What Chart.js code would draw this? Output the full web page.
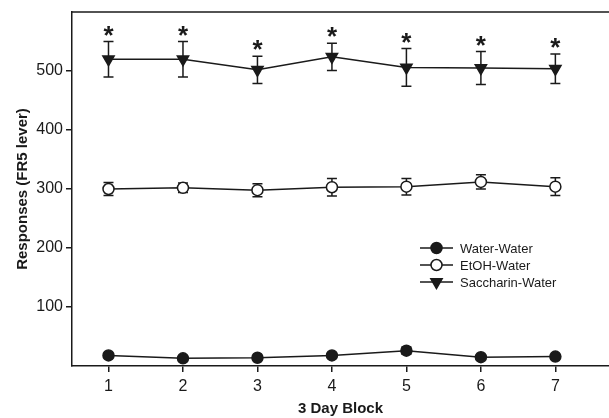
<!DOCTYPE html>
<html>
<head>
<meta charset="utf-8">
<script src="https://cdn.jsdelivr.net/npm/chart.js@4/dist/chart.umd.min.js"></script>
<style>
  html, body { margin: 0; padding: 0; background: #fff; overflow: hidden; }
  canvas { display: block; }
</style>
</head>
<body>
<canvas id="chart" width="609" height="418"></canvas>
<script>
const blocks = [1, 2, 3, 4, 5, 6, 7];
const yTicks = [100, 200, 300, 400, 500];

const waterMean = [18, 13, 14, 18, 26, 15, 16];
const waterErr = [3, 2, 2, 3, 6, 2, 2];
const etohMean = [300, 302, 298, 303, 304, 312, 304];
const etohErr = [11, 8, 11, 15, 14, 12, 15];
const saccMean = [520, 520, 502, 524, 506, 505, 504];
const saccErr = [30, 30, 23, 23, 32, 28, 25];
const saccSig = [true, true, true, true, true, true, true];

const ink = '#1a1a1a';
const font = 'Liberation Sans, Arial, sans-serif';

function pts(means) {
    return blocks.map((b, i) => ({ x: b, y: means[i] }));
}

const errs = [waterErr, etohErr, saccErr];

const errorBars = {
    id: 'errorBars',
    beforeDatasetsDraw(chart) {
        const ctx = chart.ctx;
        const xs = chart.scales.x, ys = chart.scales.y;
        ctx.save();
        ctx.strokeStyle = ink;
        ctx.lineWidth = 1.5;
        chart.data.datasets.forEach((ds, d) => {
            ds.data.forEach((p, i) => {
                const x = xs.getPixelForValue(p.x);
                const top = ys.getPixelForValue(p.y + errs[d][i]);
                const bot = ys.getPixelForValue(p.y - errs[d][i]);
                ctx.beginPath();
                ctx.moveTo(x, top); ctx.lineTo(x, bot);
                ctx.moveTo(x - 5, top); ctx.lineTo(x + 5, top);
                ctx.moveTo(x - 5, bot); ctx.lineTo(x + 5, bot);
                ctx.stroke();
            });
        });
        ctx.restore();
    },
    afterDatasetsDraw(chart) {
        const ctx = chart.ctx;
        const xs = chart.scales.x, ys = chart.scales.y;
        const a = chart.chartArea;
        ctx.save();
        // top frame line
        ctx.strokeStyle = ink;
        ctx.lineWidth = 1.5;
        ctx.beginPath();
        ctx.moveTo(a.left, a.top); ctx.lineTo(a.right, a.top);
        ctx.stroke();
        // significance stars
        ctx.fillStyle = ink;
        ctx.font = 'bold 26px ' + font;
        ctx.textAlign = 'center';
        ctx.textBaseline = 'alphabetic';
        blocks.forEach((b, i) => {
            if (!saccSig[i]) return;
            const x = xs.getPixelForValue(b);
            const top = ys.getPixelForValue(saccMean[i] + saccErr[i]);
            ctx.fillText('*', x, top + 2);
        });
        // legend
        const lx = 420, ly = 248, gap = 17;
        ctx.font = '13px ' + font;
        ctx.textAlign = 'left';
        ctx.textBaseline = 'middle';
        chart.data.datasets.forEach((ds, d) => {
            const y = ly + d * gap;
            ctx.strokeStyle = ink;
            ctx.lineWidth = 1.5;
            ctx.beginPath();
            ctx.moveTo(lx, y); ctx.lineTo(lx + 33, y);
            ctx.stroke();
            ctx.fillStyle = ds.pointBackgroundColor;
            ctx.strokeStyle = ink;
            Chart.helpers.drawPoint(ctx, {
                pointStyle: ds.pointStyle, rotation: ds.pointRotation || 0,
                radius: ds.pointRadius, borderWidth: 1.5
            }, lx + 16.5, y);
            ctx.fillStyle = ink;
            ctx.fillText(ds.label, lx + 40, y + 1);
        });
        ctx.restore();
    }
};

new Chart(document.getElementById('chart'), {
    type: 'line',
    data: {
        datasets: [{
            label: 'Water-Water',
            data: pts(waterMean),
            borderColor: ink, borderWidth: 1.5,
            pointStyle: 'circle', pointRadius: 5.5,
            pointBackgroundColor: ink, pointBorderColor: ink, pointBorderWidth: 1.5
        }, {
            label: 'EtOH-Water',
            data: pts(etohMean),
            borderColor: ink, borderWidth: 1.5,
            pointStyle: 'circle', pointRadius: 5.5,
            pointBackgroundColor: '#fff', pointBorderColor: ink, pointBorderWidth: 1.5
        }, {
            label: 'Saccharin-Water',
            data: pts(saccMean),
            borderColor: ink, borderWidth: 1.5,
            pointStyle: 'triangle', pointRotation: 180, pointRadius: 6.5,
            pointBackgroundColor: ink, pointBorderColor: ink, pointBorderWidth: 1.5
        }]
    },
    options: {
        responsive: false,
        animation: false,
        events: [],
        layout: { autoPadding: false, padding: { top: 12, right: 0, left: 0, bottom: 0 } },
        plugins: {
            legend: { display: false },
            tooltip: { enabled: false }
        },
        scales: {
            x: {
                type: 'linear',
                min: 0.51,
                max: 7.72,
                afterBuildTicks: s => { s.ticks = blocks.map(v => ({ value: v })); },
                afterFit: s => { s.height = 52; s.paddingLeft = 0; s.paddingRight = 0; },
                grid: { drawOnChartArea: false, drawTicks: true, tickLength: 6, color: ink, lineWidth: 1.5 },
                border: { display: true, color: ink, width: 1.5 },
                ticks: { color: ink, font: { family: font, size: 16 }, padding: 5, maxRotation: 0 },
                title: { display: true, text: '3 Day Block', color: ink, font: { family: font, size: 15, weight: 'bold' }, padding: { top: 7, bottom: 0 } }
            },
            y: {
                min: 0,
                max: 600,
                afterBuildTicks: s => { s.ticks = yTicks.map(v => ({ value: v })); },
                afterFit: s => { s.width = 72; s.paddingTop = 0; s.paddingBottom = 0; },
                grid: { drawOnChartArea: false, drawTicks: true, tickLength: 6, color: ink, lineWidth: 1.5 },
                border: { display: true, color: ink, width: 1.5 },
                ticks: { color: ink, font: { family: font, size: 16 }, padding: 3 },
                title: { display: true, text: 'Responses (FR5 lever)', color: ink, font: { family: font, size: 15, weight: 'bold' }, padding: { top: 14, bottom: 4 } }
            }
        }
    },
    plugins: [errorBars]
});
</script>
</body>
</html>
